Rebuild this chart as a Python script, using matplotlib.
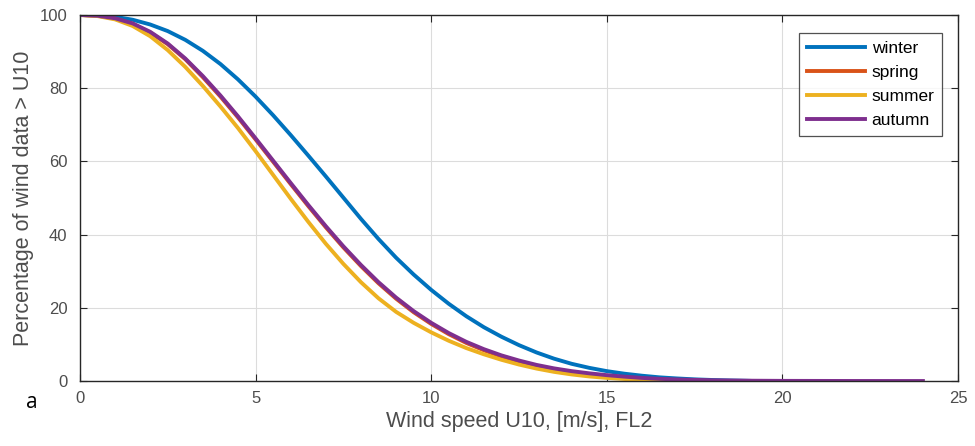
import numpy as np
import matplotlib.pyplot as plt

plt.rcParams['font.family'] = ['Liberation Sans', 'DejaVu Sans']

# exceedance curves, % of wind data > U10 (read every 0.5 m/s)
winter_x = [0, 0.5, 1, 1.5, 2, 2.5, 3, 3.5, 4, 4.5, 5, 5.5, 6, 6.5, 7, 7.5, 8, 8.5, 9, 9.5,
            10, 10.5, 11, 11.5, 12, 12.5, 13, 13.5, 14, 14.5, 15, 15.5, 16, 16.5, 17, 17.5,
            18, 18.5, 19, 19.2]
winter_y = [100, 99.9, 99.5, 98.7, 97.4, 95.6, 93.2, 90.2, 86.6, 82.4, 77.7, 72.6, 67.2,
            61.6, 55.9, 50.1, 44.3, 38.8, 33.7, 29.1, 24.9, 21.1, 17.7, 14.7, 12.1, 9.8,
            7.8, 6.1, 4.7, 3.6, 2.7, 2.0, 1.45, 1.0, 0.7, 0.45, 0.28, 0.15, 0.06, 0]

autumn_x = [0, 0.5, 1, 1.5, 2, 2.5, 3, 3.5, 4, 4.5, 5, 5.5, 6, 6.5, 7, 7.5, 8, 8.5, 9, 9.5,
            10, 10.5, 11, 11.5, 12, 12.5, 13, 13.5, 14, 14.5, 15, 15.5, 16, 16.5, 17, 18,
            19, 20, 22, 24]
autumn_y = [100, 99.8, 99.1, 97.7, 95.4, 92.2, 88.1, 83.3, 78, 72.3, 66.3, 60.2, 54.1,
            48.1, 42.3, 36.8, 31.7, 27, 22.8, 19.1, 15.9, 13.1, 10.7, 8.7, 7, 5.6, 4.4,
            3.45, 2.7, 2.1, 1.6, 1.2, 0.85, 0.6, 0.42, 0.2, 0.09, 0.04, 0.01, 0]

spring_x = [0, 0.5, 1, 1.5, 2, 2.5, 3, 3.5, 4, 4.5, 5, 5.5, 6, 6.5, 7, 7.5, 8, 8.5, 9, 9.5,
            10, 10.5, 11, 11.5, 12, 12.5, 13, 13.5, 14, 14.5, 15, 15.5, 16, 17, 18]
spring_y = [100, 99.8, 99.0, 97.6, 95.2, 92.0, 87.9, 83.0, 77.7, 72.0, 66.0, 59.9, 53.8,
            47.8, 42.0, 36.5, 31.4, 26.7, 22.5, 18.8, 15.6, 12.8, 10.4, 8.4, 6.7, 5.3,
            4.1, 3.15, 2.4, 1.8, 1.3, 0.9, 0.55, 0.2, 0]

summer_x = [0, 0.5, 1, 1.5, 2, 2.5, 3, 3.5, 4, 4.5, 5, 5.5, 6, 6.5, 7, 7.5, 8, 8.5, 9, 9.5,
            10, 10.5, 11, 11.5, 12, 12.5, 13, 13.5, 14, 14.5, 15, 15.5, 16, 16.5, 17, 17.5]
summer_y = [100, 99.7, 98.8, 97, 94.2, 90.4, 85.8, 80.6, 75, 69.1, 62.8, 56.3, 49.8, 43.5,
            37.5, 32, 27, 22.6, 18.9, 15.9, 13.3, 11, 9, 7.3, 5.8, 4.5, 3.4, 2.5, 1.8,
            1.25, 0.85, 0.55, 0.33, 0.18, 0.08, 0]

fig = plt.figure(figsize=(9.75, 4.46), dpi=100)
ax = fig.add_axes([0.082, 0.1457, 0.9006, 0.8207])

ax.plot(winter_x, winter_y, color='#0072BD', lw=2.8, label='winter')
ax.plot(spring_x, spring_y, color='#D95319', lw=2.8, label='spring')
ax.plot(summer_x, summer_y, color='#EDB120', lw=2.8, label='summer')
ax.plot(autumn_x, autumn_y, color='#7E2F8E', lw=2.8, label='autumn')

ax.set_xlim(0, 25)
ax.set_ylim(0, 100)
ax.set_xticks([0, 5, 10, 15, 20, 25])
ax.set_yticks([0, 20, 40, 60, 80, 100])
ax.grid(True, color='#dcdcdc', lw=0.8)
ax.set_axisbelow(True)
ax.tick_params(direction='in', top=True, right=True, labelsize=12,
               labelcolor='#4d4d4d', color='#262626', length=5)
ax.tick_params(axis='y', pad=9)
ax.tick_params(axis='x', pad=7)
for s in ax.spines.values():
    s.set_color('#262626')
    s.set_linewidth(1.0)

ax.set_xlabel('Wind speed U10, [m/s], FL2', fontsize=15.5, color='#4d4d4d', labelpad=4)
ax.set_ylabel('Percentage of wind data > U10', fontsize=15.5, color='#4d4d4d', labelpad=4)

leg = ax.legend(loc='upper right', bbox_to_anchor=(0.982, 0.95), fontsize=12.5,
                frameon=True, fancybox=False, handlelength=3.3, borderpad=0.45,
                labelspacing=0.5, handletextpad=0.4, borderaxespad=0)
leg.get_frame().set_edgecolor('#262626')
leg.get_frame().set_linewidth(0.9)

fig.text(0.027, 0.085, 'a', fontsize=15, color='black', family=['Open Sans', 'DejaVu Sans'])

fig.savefig('out.png', dpi=100)
